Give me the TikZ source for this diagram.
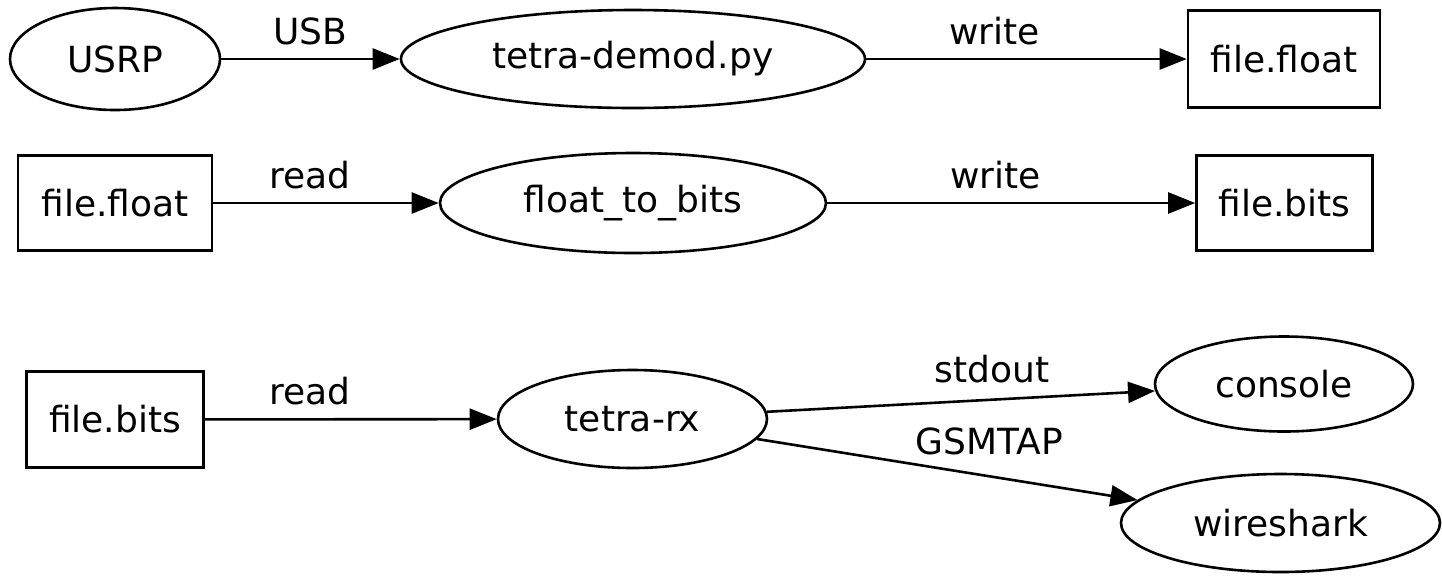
\documentclass[tikz,border=0pt]{standalone}
\usepackage{fontspec}
\setmainfont{DejaVu Sans}
\usetikzlibrary{arrows.meta,shapes.geometric}
\begin{document}
\begin{tikzpicture}[x=0.5pt,y=-0.5pt,
  every node/.style={font=\fontsize{18}{21.6}\selectfont},
  oval/.style={ellipse,draw,line width=1.3pt,inner sep=0pt},
  filebox/.style={rectangle,draw,line width=1.3pt,inner sep=0pt},
  edge/.style={line width=1.3pt,-{Triangle[length=13.5pt,width=10.5pt]}},
  lbl/.style={anchor=base,yshift=7.5pt,inner sep=0pt}]
\useasboundingbox (0,0) rectangle (1442,575);
% row 1
\node[oval,minimum width=105pt,minimum height=51pt] (usrp) at (115,59) {USRP};
\node[oval,minimum width=232pt,minimum height=49pt] (demod) at (633,59) {tetra-demod.py};
\node[filebox,minimum width=96pt,minimum height=48.5pt] (ff1) at (1284,59) {file.float};
\draw[edge] (usrp) -- node[lbl,pos=0.5] {USB} (demod);
\draw[edge] (demod) -- node[lbl,pos=0.40] {write} (ff1);
% row 2
\node[filebox,minimum width=97pt,minimum height=47.5pt] (ff2) at (115,203) {file.float};
\node[oval,minimum width=193pt,minimum height=50pt] (f2b) at (633,203) {float\_to\_bits};
\node[filebox,minimum width=88pt,minimum height=47.5pt] (fb1) at (1284.5,203) {file.bits};
\draw[edge] (ff2) -- node[lbl,pos=0.43] {read} (f2b);
\draw[edge] (f2b) -- node[lbl,pos=0.457] {write} (fb1);
% row 3
\node[filebox,minimum width=88.5pt,minimum height=48pt] (fb2) at (115,419.5) {file.bits};
\node[oval,minimum width=134.5pt,minimum height=49pt] (rx) at (632.5,419) {tetra-rx};
\node[oval,minimum width=129pt,minimum height=47.5pt] (console) at (1284,384) {console};
\node[oval,minimum width=159.5pt,minimum height=49pt] (wire) at (1280.5,523) {wireshark};
\draw[edge] (fb2) -- node[lbl,pos=0.36] {read} (rx);
\draw[edge] (rx) -- node[lbl,pos=0.58,yshift=1pt] {stdout} (console);
\draw[edge] (rx) -- node[lbl,pos=0.61,yshift=3.5pt] {GSMTAP} (wire);
\end{tikzpicture}
\end{document}
